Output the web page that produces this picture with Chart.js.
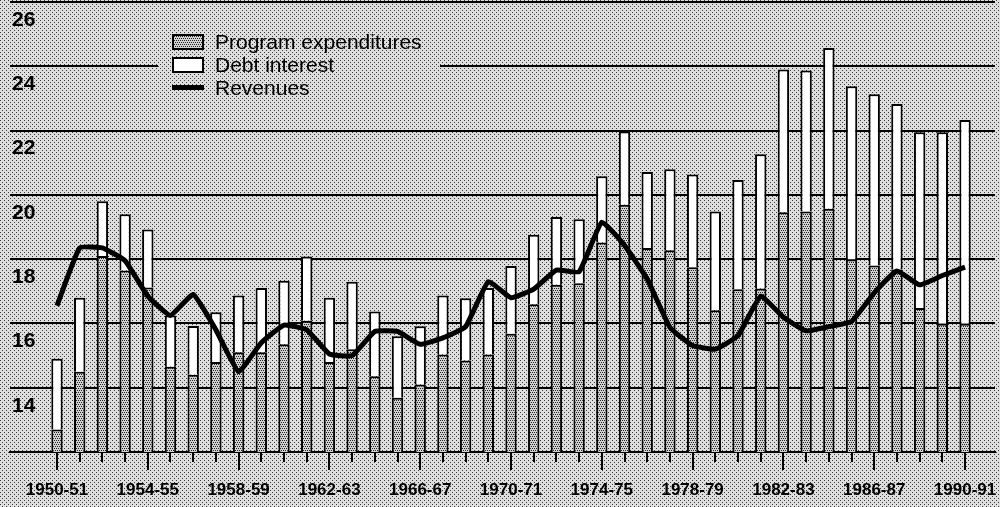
<!DOCTYPE html>
<html>
<head>
<meta charset="utf-8">
<script src="https://cdn.jsdelivr.net/npm/chart.js@4.4.1/dist/chart.umd.min.js"></script>
<style>
html, body { margin: 0; padding: 0; background: #c8c8c8; }
#wrap { position: relative; width: 1000px; height: 507px; overflow: hidden; }
#chart { position: absolute; left: 0; top: 0; }
#legend { position: absolute; left: 158px; top: 28px; width: 282px; height: 72px;
  font-family: "Liberation Sans", Arial, sans-serif; font-size: 21px; color: #000; }
.item { position: absolute; left: 14px; height: 23px; display: flex; align-items: center; white-space: nowrap; }
.sw { width: 28px; height: 12px; border: 2px solid #000; margin-right: 11px; }
.ln { width: 32px; height: 5px; background: #000; margin-right: 11px; }
</style>
</head>
<body>
<div id="wrap">
  <canvas id="chart" width="1000" height="507"></canvas>
  <div id="legend">
    <div class="item" style="top:2px"><span class="sw" id="swProg"></span>Program expenditures</div>
    <div class="item" style="top:25px"><span class="sw" style="background:#fff"></span>Debt interest</div>
    <div class="item" style="top:48px"><span class="ln"></span>Revenues</div>
  </div>
</div>
<script>
// fiscal years
var years = ['1950-51','1951-52','1952-53','1953-54','1954-55','1955-56','1956-57','1957-58',
  '1958-59','1959-60','1960-61','1961-62','1962-63','1963-64','1964-65','1965-66','1966-67',
  '1967-68','1968-69','1969-70','1970-71','1971-72','1972-73','1973-74','1974-75','1975-76',
  '1976-77','1977-78','1978-79','1979-80','1980-81','1981-82','1982-83','1983-84','1984-85',
  '1985-86','1986-87','1987-88','1988-89','1989-90','1990-91'];

// % of GDP
var programExp = [12.7, 14.5, 18.1, 17.65, 17.12, 14.65, 14.4, 14.8, 15.1, 15.1, 15.35, 16.08,
  14.8, 15.2, 14.36, 13.69, 14.1, 15.03, 14.85, 15.03, 15.68, 16.6, 17.2, 17.25, 18.52, 19.69,
  18.35, 18.28, 17.75, 16.41, 17.06, 17.09, 19.46, 19.48, 19.57, 17.99, 17.8, 17.68, 16.48,
  15.99, 15.99];
// top of each bar (program + debt interest)
var totalSpending = [14.9, 16.8, 19.8, 19.4, 18.92, 16.25, 15.92, 16.35, 16.87, 17.1, 17.33, 18.08,
  16.8, 17.3, 16.37, 15.6, 15.91, 16.87, 16.78, 17.1, 17.79, 18.76, 19.31, 19.24, 20.58, 21.97,
  20.71, 20.8, 20.63, 19.48, 20.46, 21.26, 23.9, 23.87, 24.57, 23.38, 23.13, 22.83, 21.95,
  21.95, 22.33];
var revenues = [16.55, 18.35, 18.35, 17.95, 16.85, 16.25, 16.9, 15.8, 14.5, 15.4, 15.95, 15.8,
  15.05, 15.0, 15.75, 15.75, 15.35, 15.55, 15.9, 17.3, 16.8, 17.07, 17.66, 17.61, 19.15, 18.43,
  17.38, 15.88, 15.31, 15.2, 15.62, 16.85, 16.19, 15.77, 15.9, 16.06, 16.95, 17.63, 17.2,
  17.49, 17.75];

var yTicks = [12, 14, 16, 18, 20, 22, 24, 26];

function makeTile(base, dots, dotColor) {
  var c = document.createElement('canvas');
  c.width = 4; c.height = 4;
  var g = c.getContext('2d');
  g.fillStyle = base; g.fillRect(0, 0, 4, 4);
  g.fillStyle = dotColor;
  dots.forEach(function (d) { g.fillRect(d[0], d[1], 1, 1); });
  return c;
}
var bgTile = makeTile('#dedede', [[0, 0], [2, 2]], '#3a3a3a');
var progTile = makeTile('#d2d2d2', [[0, 0], [2, 0], [1, 2], [3, 2]], '#222');

var ctx = document.getElementById('chart').getContext('2d');
var bgPattern = ctx.createPattern(bgTile, 'repeat');
var progPattern = ctx.createPattern(progTile, 'repeat');

var legend = document.getElementById('legend');
legend.style.backgroundImage = 'url(' + bgTile.toDataURL() + ')';
legend.style.backgroundPosition = '-158px -28px';
document.getElementById('swProg').style.backgroundImage = 'url(' + progTile.toDataURL() + ')';

var fontFam = '"Liberation Sans", Arial, sans-serif';

var background = {
  id: 'background',
  beforeDraw: function (chart) {
    var c = chart.ctx;
    c.save();
    c.fillStyle = bgPattern;
    c.fillRect(0, 0, chart.width, chart.height);
    c.restore();
  }
};

// short tick under every year, longer tick under labelled years
var yearTicks = {
  id: 'yearTicks',
  afterDraw: function (chart) {
    var x = chart.scales.x, c = chart.ctx, base = chart.chartArea.bottom;
    c.save();
    c.strokeStyle = '#000';
    c.lineWidth = 2;
    years.forEach(function (y, i) {
      var px = Math.round(x.getPixelForValue(i));
      c.beginPath();
      c.moveTo(px, base);
      c.lineTo(px, base + (i % 4 === 0 ? 18 : 10));
      c.stroke();
    });
    c.restore();
  }
};

new Chart(ctx, {
  type: 'bar',
  data: {
    datasets: [
      {
        type: 'line',
        label: 'Revenues',
        data: revenues.map(function (v, i) { return { x: i, y: v }; }),
        borderColor: '#000',
        borderWidth: 5,
        tension: 0.12,
        pointRadius: 0,
        borderJoinStyle: 'round',
        order: 0
      },
      {
        label: 'Debt interest',
        data: totalSpending.map(function (v, i) { return { x: i, y: [programExp[i], v] }; }),
        backgroundColor: '#fff',
        borderColor: '#000',
        borderWidth: 2,
        order: 1
      },
      {
        label: 'Program expenditures',
        data: programExp.map(function (v, i) { return { x: i, y: v }; }),
        backgroundColor: progPattern,
        borderColor: '#000',
        borderWidth: 2,
        order: 2
      }
    ]
  },
  options: {
    responsive: false,
    animation: false,
    grouped: false,
    barPercentage: 0.5,
    categoryPercentage: 1,
    layout: { padding: { left: 8, right: 5, top: 2, bottom: 0 } },
    plugins: { legend: { display: false }, tooltip: { enabled: false } },
    scales: {
      x: {
        type: 'linear',
        offset: false,
        min: -2.07,
        max: 41.32,
        afterBuildTicks: function (scale) {
          scale.ticks = years.map(function (y, i) { return { value: i }; });
        },
        afterFit: function (scale) {
          scale.height = 55;
          scale.paddingLeft = 0;
          scale.paddingRight = 0;
        },
        ticks: {
          autoSkip: false,
          maxRotation: 0,
          padding: 20,
          color: '#000',
          font: { family: fontFam, size: 17, weight: 'bold' },
          callback: function (v) { return v % 4 === 0 ? years[v] : ''; }
        },
        grid: { display: false },
        border: { display: true, color: '#000', width: 2 }
      },
      y: {
        min: 12,
        max: 26,
        afterBuildTicks: function (scale) {
          scale.ticks = yTicks.map(function (v) { return { value: v }; });
        },
        afterFit: function (scale) {
          scale.width = 2;
          scale.paddingTop = 0;
          scale.paddingBottom = 0;
        },
        ticks: {
          mirror: true,
          padding: 2,
          labelOffset: 18,
          color: '#000',
          font: { family: fontFam, size: 21, weight: 'bold' },
          callback: function (v) { return v === 12 ? '' : v; }
        },
        grid: { color: '#000', lineWidth: 2, drawTicks: false },
        border: { display: false }
      }
    }
  },
  plugins: [background, yearTicks]
});
</script>
</body>
</html>
